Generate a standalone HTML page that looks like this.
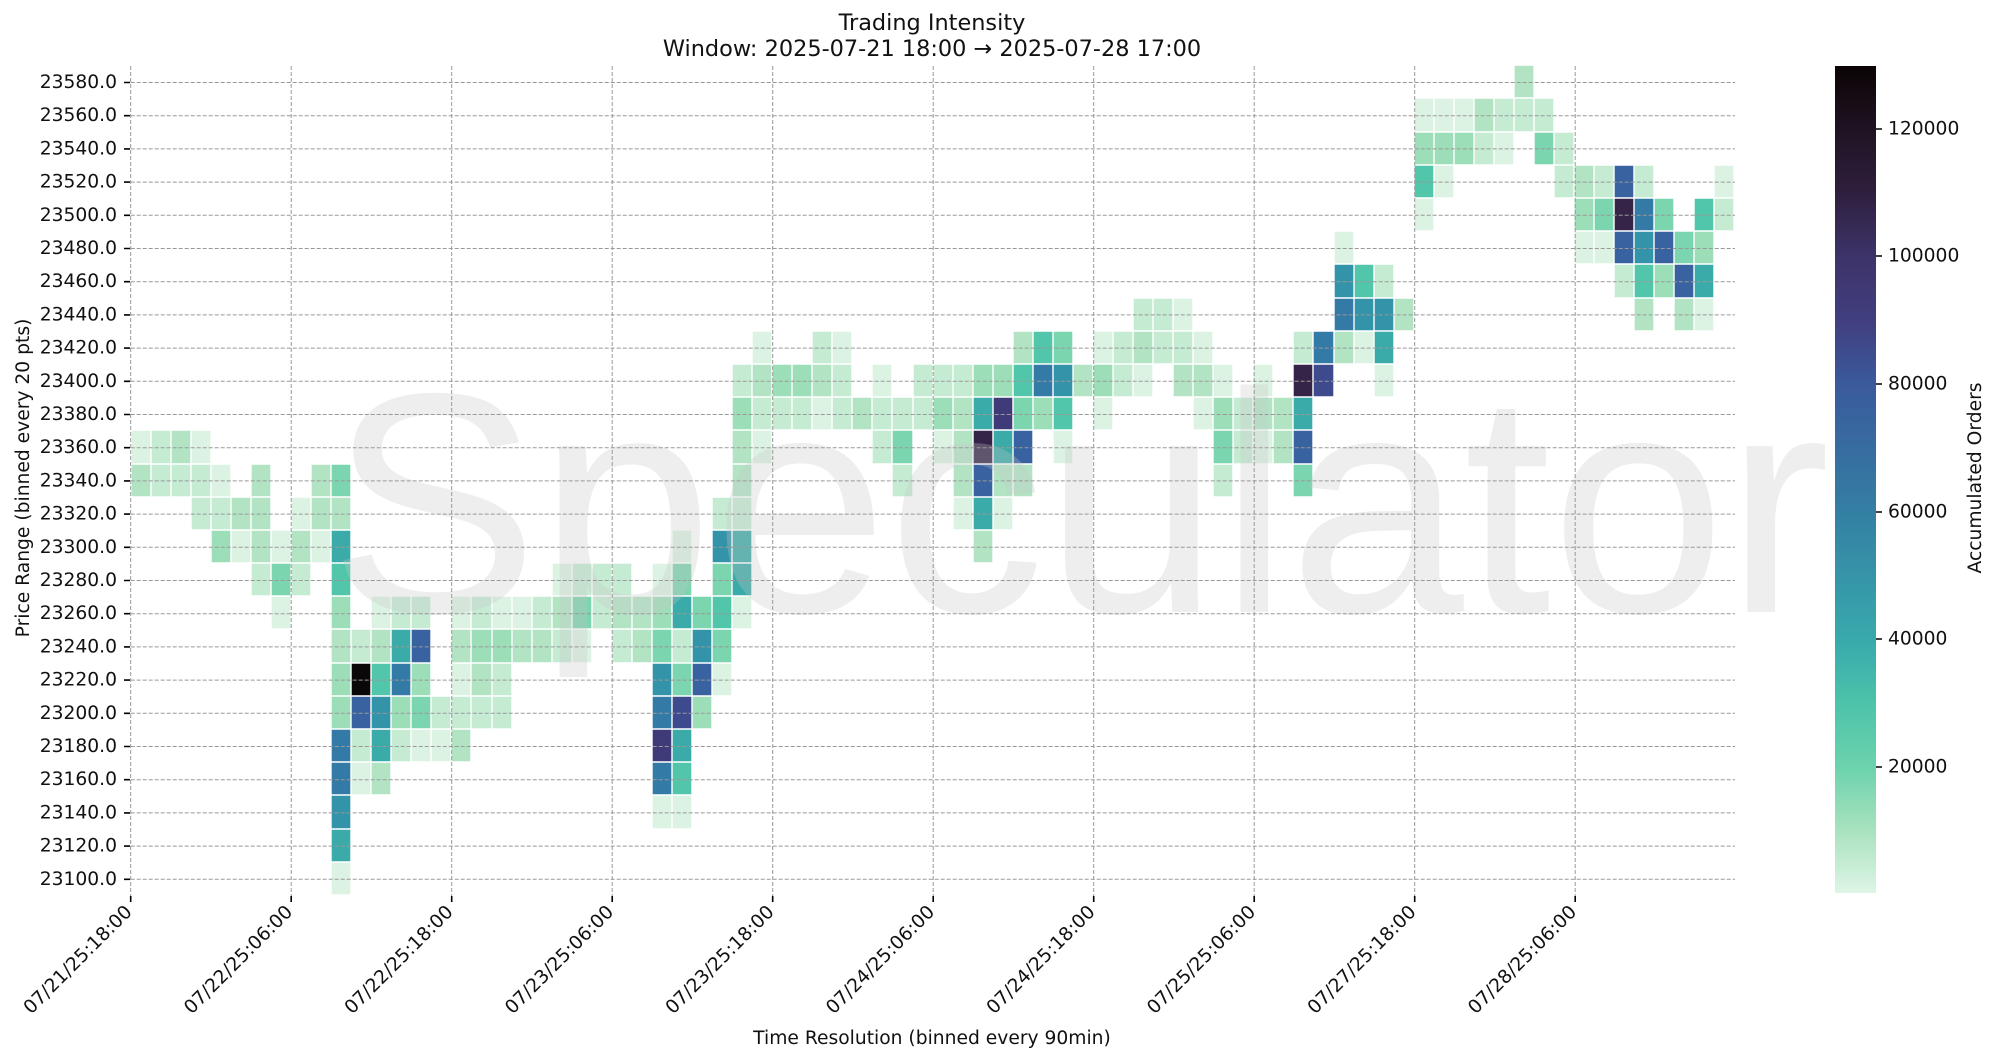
<!DOCTYPE html>
<html><head><meta charset="utf-8">
<style>
html,body{margin:0;padding:0;background:#fff;}
#wrap{position:relative;width:2000px;height:1063px;overflow:hidden;background:#fff;font-family:"DejaVu Sans","Liberation Sans",sans-serif;}
#hm{position:absolute;left:130.7px;top:65.3px;width:1604.8px;height:829.75px;display:grid;grid-template-columns:repeat(80,20.06px);grid-template-rows:repeat(25,33.19px);}
#hm i{display:block;box-shadow:inset 0 0 0 0.7px #fff;}
.a{background:#dcf3e3}.b{background:#c5ebd3}.c{background:#b2e4c4}.d{background:#9cdeb8}.e{background:#7bd5ae}
.f{background:#52c6aa}.g{background:#3aaba8}.h{background:#3393a8}.i{background:#347aa6}.j{background:#3862a0}
.k{background:#3e4a8e}.m{background:#3f3a78}.n{background:#352448}.o{background:#0b0809}
svg{position:absolute;left:0;top:0;}
</style></head><body><div id="wrap">
<div id="hm">
<i class="a" style="grid-area:25/11"></i>
<i class="g" style="grid-area:24/11"></i>
<i class="h" style="grid-area:23/11"></i><i class="a" style="grid-area:23/27"></i><i class="a" style="grid-area:23/28"></i>
<i class="i" style="grid-area:22/11"></i><i class="a" style="grid-area:22/12"></i><i class="c" style="grid-area:22/13"></i><i class="i" style="grid-area:22/27"></i><i class="f" style="grid-area:22/28"></i>
<i class="i" style="grid-area:21/11"></i><i class="b" style="grid-area:21/12"></i><i class="g" style="grid-area:21/13"></i><i class="b" style="grid-area:21/14"></i><i class="a" style="grid-area:21/15"></i><i class="a" style="grid-area:21/16"></i><i class="c" style="grid-area:21/17"></i><i class="m" style="grid-area:21/27"></i><i class="g" style="grid-area:21/28"></i>
<i class="d" style="grid-area:20/11"></i><i class="j" style="grid-area:20/12"></i><i class="h" style="grid-area:20/13"></i><i class="d" style="grid-area:20/14"></i><i class="e" style="grid-area:20/15"></i><i class="b" style="grid-area:20/16"></i><i class="b" style="grid-area:20/17"></i><i class="b" style="grid-area:20/18"></i><i class="b" style="grid-area:20/19"></i><i class="i" style="grid-area:20/27"></i><i class="k" style="grid-area:20/28"></i><i class="d" style="grid-area:20/29"></i>
<i class="d" style="grid-area:19/11"></i><i class="o" style="grid-area:19/12"></i><i class="f" style="grid-area:19/13"></i><i class="i" style="grid-area:19/14"></i><i class="d" style="grid-area:19/15"></i><i class="a" style="grid-area:19/17"></i><i class="c" style="grid-area:19/18"></i><i class="b" style="grid-area:19/19"></i><i class="h" style="grid-area:19/27"></i><i class="e" style="grid-area:19/28"></i><i class="j" style="grid-area:19/29"></i><i class="a" style="grid-area:19/30"></i>
<i class="c" style="grid-area:18/11"></i><i class="b" style="grid-area:18/12"></i><i class="c" style="grid-area:18/13"></i><i class="g" style="grid-area:18/14"></i><i class="j" style="grid-area:18/15"></i><i class="c" style="grid-area:18/17"></i><i class="d" style="grid-area:18/18"></i><i class="d" style="grid-area:18/19"></i><i class="c" style="grid-area:18/20"></i><i class="c" style="grid-area:18/21"></i><i class="b" style="grid-area:18/22"></i><i class="a" style="grid-area:18/23"></i><i class="b" style="grid-area:18/25"></i><i class="c" style="grid-area:18/26"></i><i class="e" style="grid-area:18/27"></i><i class="b" style="grid-area:18/28"></i><i class="h" style="grid-area:18/29"></i><i class="e" style="grid-area:18/30"></i>
<i class="a" style="grid-area:17/8"></i><i class="d" style="grid-area:17/11"></i><i class="a" style="grid-area:17/13"></i><i class="b" style="grid-area:17/14"></i><i class="b" style="grid-area:17/15"></i><i class="a" style="grid-area:17/17"></i><i class="b" style="grid-area:17/18"></i><i class="a" style="grid-area:17/19"></i><i class="a" style="grid-area:17/20"></i><i class="b" style="grid-area:17/21"></i><i class="c" style="grid-area:17/22"></i><i class="e" style="grid-area:17/23"></i><i class="b" style="grid-area:17/24"></i><i class="c" style="grid-area:17/25"></i><i class="c" style="grid-area:17/26"></i><i class="d" style="grid-area:17/27"></i><i class="g" style="grid-area:17/28"></i><i class="e" style="grid-area:17/29"></i><i class="f" style="grid-area:17/30"></i><i class="a" style="grid-area:17/31"></i>
<i class="b" style="grid-area:16/7"></i><i class="e" style="grid-area:16/8"></i><i class="b" style="grid-area:16/9"></i><i class="f" style="grid-area:16/11"></i><i class="a" style="grid-area:16/22"></i><i class="b" style="grid-area:16/23"></i><i class="b" style="grid-area:16/24"></i><i class="b" style="grid-area:16/25"></i><i class="a" style="grid-area:16/27"></i><i class="e" style="grid-area:16/28"></i><i class="e" style="grid-area:16/30"></i><i class="g" style="grid-area:16/31"></i>
<i class="d" style="grid-area:15/5"></i><i class="a" style="grid-area:15/6"></i><i class="c" style="grid-area:15/7"></i><i class="a" style="grid-area:15/8"></i><i class="c" style="grid-area:15/9"></i><i class="a" style="grid-area:15/10"></i><i class="g" style="grid-area:15/11"></i><i class="a" style="grid-area:15/28"></i><i class="h" style="grid-area:15/30"></i><i class="g" style="grid-area:15/31"></i><i class="c" style="grid-area:15/43"></i>
<i class="b" style="grid-area:14/4"></i><i class="b" style="grid-area:14/5"></i><i class="c" style="grid-area:14/6"></i><i class="c" style="grid-area:14/7"></i><i class="a" style="grid-area:14/9"></i><i class="c" style="grid-area:14/10"></i><i class="c" style="grid-area:14/11"></i><i class="b" style="grid-area:14/30"></i><i class="b" style="grid-area:14/31"></i><i class="a" style="grid-area:14/42"></i><i class="g" style="grid-area:14/43"></i><i class="a" style="grid-area:14/44"></i>
<i class="c" style="grid-area:13/1"></i><i class="b" style="grid-area:13/2"></i><i class="b" style="grid-area:13/3"></i><i class="b" style="grid-area:13/4"></i><i class="a" style="grid-area:13/5"></i><i class="c" style="grid-area:13/7"></i><i class="c" style="grid-area:13/10"></i><i class="e" style="grid-area:13/11"></i><i class="c" style="grid-area:13/31"></i><i class="b" style="grid-area:13/39"></i><i class="c" style="grid-area:13/42"></i><i class="j" style="grid-area:13/43"></i><i class="c" style="grid-area:13/44"></i><i class="c" style="grid-area:13/45"></i><i class="b" style="grid-area:13/55"></i><i class="e" style="grid-area:13/59"></i>
<i class="a" style="grid-area:12/1"></i><i class="b" style="grid-area:12/2"></i><i class="c" style="grid-area:12/3"></i><i class="a" style="grid-area:12/4"></i><i class="c" style="grid-area:12/31"></i><i class="a" style="grid-area:12/32"></i><i class="b" style="grid-area:12/38"></i><i class="e" style="grid-area:12/39"></i><i class="a" style="grid-area:12/41"></i><i class="c" style="grid-area:12/42"></i><i class="n" style="grid-area:12/43"></i><i class="g" style="grid-area:12/44"></i><i class="j" style="grid-area:12/45"></i><i class="a" style="grid-area:12/47"></i><i class="e" style="grid-area:12/55"></i><i class="b" style="grid-area:12/56"></i><i class="a" style="grid-area:12/57"></i><i class="c" style="grid-area:12/58"></i><i class="j" style="grid-area:12/59"></i>
<i class="d" style="grid-area:11/31"></i><i class="b" style="grid-area:11/32"></i><i class="b" style="grid-area:11/33"></i><i class="b" style="grid-area:11/34"></i><i class="a" style="grid-area:11/35"></i><i class="b" style="grid-area:11/36"></i><i class="c" style="grid-area:11/37"></i><i class="b" style="grid-area:11/38"></i><i class="b" style="grid-area:11/39"></i><i class="b" style="grid-area:11/40"></i><i class="d" style="grid-area:11/41"></i><i class="c" style="grid-area:11/42"></i><i class="g" style="grid-area:11/43"></i><i class="m" style="grid-area:11/44"></i><i class="e" style="grid-area:11/45"></i><i class="d" style="grid-area:11/46"></i><i class="f" style="grid-area:11/47"></i><i class="a" style="grid-area:11/49"></i><i class="a" style="grid-area:11/54"></i><i class="d" style="grid-area:11/55"></i><i class="b" style="grid-area:11/56"></i><i class="c" style="grid-area:11/57"></i><i class="c" style="grid-area:11/58"></i><i class="g" style="grid-area:11/59"></i>
<i class="b" style="grid-area:10/31"></i><i class="c" style="grid-area:10/32"></i><i class="d" style="grid-area:10/33"></i><i class="d" style="grid-area:10/34"></i><i class="c" style="grid-area:10/35"></i><i class="b" style="grid-area:10/36"></i><i class="a" style="grid-area:10/38"></i><i class="b" style="grid-area:10/40"></i><i class="b" style="grid-area:10/41"></i><i class="b" style="grid-area:10/42"></i><i class="d" style="grid-area:10/43"></i><i class="d" style="grid-area:10/44"></i><i class="f" style="grid-area:10/45"></i><i class="i" style="grid-area:10/46"></i><i class="h" style="grid-area:10/47"></i><i class="c" style="grid-area:10/48"></i><i class="d" style="grid-area:10/49"></i><i class="b" style="grid-area:10/50"></i><i class="a" style="grid-area:10/51"></i><i class="c" style="grid-area:10/53"></i><i class="c" style="grid-area:10/54"></i><i class="a" style="grid-area:10/55"></i><i class="a" style="grid-area:10/57"></i><i class="n" style="grid-area:10/59"></i><i class="k" style="grid-area:10/60"></i><i class="a" style="grid-area:10/63"></i>
<i class="a" style="grid-area:9/32"></i><i class="b" style="grid-area:9/35"></i><i class="a" style="grid-area:9/36"></i><i class="c" style="grid-area:9/45"></i><i class="f" style="grid-area:9/46"></i><i class="e" style="grid-area:9/47"></i><i class="a" style="grid-area:9/49"></i><i class="b" style="grid-area:9/50"></i><i class="c" style="grid-area:9/51"></i><i class="b" style="grid-area:9/52"></i><i class="b" style="grid-area:9/53"></i><i class="a" style="grid-area:9/54"></i><i class="b" style="grid-area:9/59"></i><i class="i" style="grid-area:9/60"></i><i class="c" style="grid-area:9/61"></i><i class="a" style="grid-area:9/62"></i><i class="g" style="grid-area:9/63"></i>
<i class="b" style="grid-area:8/51"></i><i class="b" style="grid-area:8/52"></i><i class="a" style="grid-area:8/53"></i><i class="i" style="grid-area:8/61"></i><i class="h" style="grid-area:8/62"></i><i class="h" style="grid-area:8/63"></i><i class="c" style="grid-area:8/64"></i><i class="c" style="grid-area:8/76"></i><i class="c" style="grid-area:8/78"></i><i class="a" style="grid-area:8/79"></i>
<i class="h" style="grid-area:7/61"></i><i class="f" style="grid-area:7/62"></i><i class="b" style="grid-area:7/63"></i><i class="b" style="grid-area:7/75"></i><i class="f" style="grid-area:7/76"></i><i class="d" style="grid-area:7/77"></i><i class="j" style="grid-area:7/78"></i><i class="g" style="grid-area:7/79"></i>
<i class="a" style="grid-area:6/61"></i><i class="a" style="grid-area:6/73"></i><i class="a" style="grid-area:6/74"></i><i class="j" style="grid-area:6/75"></i><i class="h" style="grid-area:6/76"></i><i class="j" style="grid-area:6/77"></i><i class="e" style="grid-area:6/78"></i><i class="d" style="grid-area:6/79"></i>
<i class="a" style="grid-area:5/65"></i><i class="d" style="grid-area:5/73"></i><i class="e" style="grid-area:5/74"></i><i class="n" style="grid-area:5/75"></i><i class="i" style="grid-area:5/76"></i><i class="e" style="grid-area:5/77"></i><i class="f" style="grid-area:5/79"></i><i class="b" style="grid-area:5/80"></i>
<i class="f" style="grid-area:4/65"></i><i class="a" style="grid-area:4/66"></i><i class="b" style="grid-area:4/72"></i><i class="c" style="grid-area:4/73"></i><i class="b" style="grid-area:4/74"></i><i class="j" style="grid-area:4/75"></i><i class="b" style="grid-area:4/76"></i><i class="a" style="grid-area:4/80"></i>
<i class="d" style="grid-area:3/65"></i><i class="d" style="grid-area:3/66"></i><i class="d" style="grid-area:3/67"></i><i class="b" style="grid-area:3/68"></i><i class="a" style="grid-area:3/69"></i><i class="e" style="grid-area:3/71"></i><i class="b" style="grid-area:3/72"></i>
<i class="a" style="grid-area:2/65"></i><i class="a" style="grid-area:2/66"></i><i class="a" style="grid-area:2/67"></i><i class="c" style="grid-area:2/68"></i><i class="b" style="grid-area:2/69"></i><i class="b" style="grid-area:2/70"></i><i class="b" style="grid-area:2/71"></i>
<i class="c" style="grid-area:1/70"></i>
</div>
<svg width="2000" height="1063" viewBox="0 0 2000 1063" font-family="DejaVu Sans, Liberation Sans, sans-serif">
<defs>
<linearGradient id="cb" x1="0" y1="0" x2="0" y2="1">
<stop offset="0" stop-color="#0b0405"/><stop offset="0.08" stop-color="#1f1424"/><stop offset="0.15" stop-color="#2e1e3c"/>
<stop offset="0.23" stop-color="#3d3369"/><stop offset="0.31" stop-color="#413f80"/><stop offset="0.386" stop-color="#3a5a9c"/>
<stop offset="0.54" stop-color="#347fa4"/><stop offset="0.696" stop-color="#38aaac"/><stop offset="0.77" stop-color="#4cc3aa"/>
<stop offset="0.85" stop-color="#6dd3ad"/><stop offset="0.92" stop-color="#a5e1bd"/><stop offset="1" stop-color="#def5e5"/>
</linearGradient>
</defs>
<text x="329" y="612" font-family="Liberation Sans, sans-serif" font-size="314" fill="#c8c8c8" fill-opacity="0.3">Speculator</text>
<g stroke="#999" stroke-width="1" stroke-dasharray="4,2" fill="none">
<path d="M130.7 66V896M291.2 66V896M451.7 66V896M612.2 66V896M772.7 66V896M933.2 66V896M1093.7 66V896M1254.2 66V896M1414.7 66V896M1575.2 66V896"/>
<path d="M130.7 82.5H1735M130.7 115.7H1735M130.7 148.9H1735M130.7 182.1H1735M130.7 215.3H1735M130.7 248.5H1735M130.7 281.7H1735M130.7 314.9H1735M130.7 348.1H1735M130.7 381.3H1735M130.7 414.5H1735M130.7 447.7H1735M130.7 480.9H1735M130.7 514.1H1735M130.7 547.3H1735M130.7 580.5H1735M130.7 613.7H1735M130.7 646.9H1735M130.7 680.1H1735M130.7 713.3H1735M130.7 746.5H1735M130.7 779.7H1735M130.7 812.9H1735M130.7 846.1H1735M130.7 879.3H1735"/>
</g>
<g stroke="#000" stroke-width="1.6">
<path d="M124 82.5H130M124 115.7H130M124 148.9H130M124 182.1H130M124 215.3H130M124 248.5H130M124 281.7H130M124 314.9H130M124 348.1H130M124 381.3H130M124 414.5H130M124 447.7H130M124 480.9H130M124 514.1H130M124 547.3H130M124 580.5H130M124 613.7H130M124 646.9H130M124 680.1H130M124 713.3H130M124 746.5H130M124 779.7H130M124 812.9H130M124 846.1H130M124 879.3H130"/>
<path d="M130.7 896V902M291.2 896V902M451.7 896V902M612.2 896V902M772.7 896V902M933.2 896V902M1093.7 896V902M1254.2 896V902M1414.7 896V902M1575.2 896V902"/>
<path d="M1876 129H1882M1876 256H1882M1876 384H1882M1876 512H1882M1876 639H1882M1876 767H1882"/>
</g>
<g font-size="18.7" fill="#111" text-anchor="end" dominant-baseline="central">
<text x="117" y="82.5">23580.0</text><text x="117" y="115.7">23560.0</text><text x="117" y="148.9">23540.0</text><text x="117" y="182.1">23520.0</text><text x="117" y="215.3">23500.0</text><text x="117" y="248.5">23480.0</text><text x="117" y="281.7">23460.0</text><text x="117" y="314.9">23440.0</text><text x="117" y="348.1">23420.0</text><text x="117" y="381.3">23400.0</text><text x="117" y="414.5">23380.0</text><text x="117" y="447.7">23360.0</text><text x="117" y="480.9">23340.0</text><text x="117" y="514.1">23320.0</text><text x="117" y="547.3">23300.0</text><text x="117" y="580.5">23280.0</text><text x="117" y="613.7">23260.0</text><text x="117" y="646.9">23240.0</text><text x="117" y="680.1">23220.0</text><text x="117" y="713.3">23200.0</text><text x="117" y="746.5">23180.0</text><text x="117" y="779.7">23160.0</text><text x="117" y="812.9">23140.0</text><text x="117" y="846.1">23120.0</text><text x="117" y="879.3">23100.0</text>
</g>
<g font-size="18.7" fill="#111" text-anchor="end">
<text transform="translate(133,913) rotate(-45)">07/21/25:18:00</text>
<text transform="translate(293.5,913) rotate(-45)">07/22/25:06:00</text>
<text transform="translate(454,913) rotate(-45)">07/22/25:18:00</text>
<text transform="translate(614.5,913) rotate(-45)">07/23/25:06:00</text>
<text transform="translate(775,913) rotate(-45)">07/23/25:18:00</text>
<text transform="translate(935.5,913) rotate(-45)">07/24/25:06:00</text>
<text transform="translate(1096,913) rotate(-45)">07/24/25:18:00</text>
<text transform="translate(1256.5,913) rotate(-45)">07/25/25:06:00</text>
<text transform="translate(1417,913) rotate(-45)">07/27/25:18:00</text>
<text transform="translate(1577.5,913) rotate(-45)">07/28/25:06:00</text>
</g>
<g fill="#111" text-anchor="middle">
<text x="932" y="30" font-size="22.4">Trading Intensity</text>
<text x="932" y="56" font-size="22.4">Window: 2025-07-21 18:00 → 2025-07-28 17:00</text>
<text x="932" y="1044" font-size="18.7">Time Resolution (binned every 90min)</text>
<text transform="translate(29,478) rotate(-90)" font-size="18.7">Price Range (binned every 20 pts)</text>
<text transform="translate(1981,478) rotate(-90)" font-size="18.7">Accumulated Orders</text>
</g>
<rect x="1835" y="66" width="41" height="827" fill="url(#cb)"/>
<g font-size="18.7" fill="#111" dominant-baseline="central">
<text x="1888" y="129">120000</text><text x="1888" y="256">100000</text><text x="1888" y="384">80000</text><text x="1888" y="512">60000</text><text x="1888" y="639">40000</text><text x="1888" y="767">20000</text>
</g>
</svg>
</div></body></html>
